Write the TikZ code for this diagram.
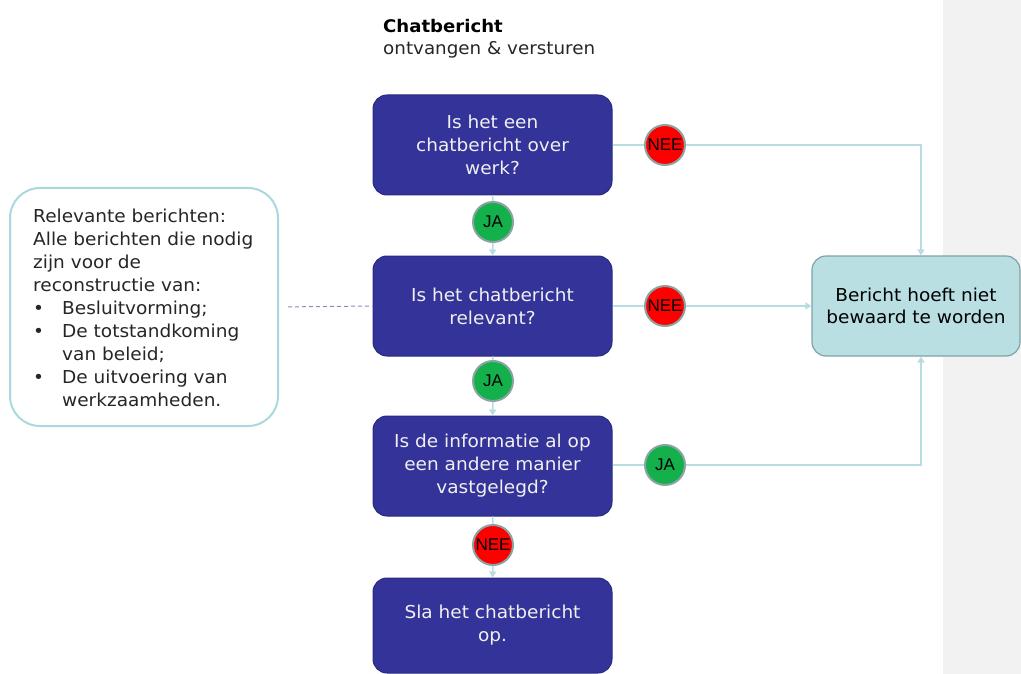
\documentclass[tikz,border=0pt]{standalone}
\usepackage{fontspec}
\setmainfont[FakeStretch=1.04]{DejaVu Sans}
\newfontfamily\labelfont{Liberation Sans}
\usetikzlibrary{arrows.meta,positioning}

\definecolor{stepblue}{HTML}{333399}
\definecolor{stepedge}{HTML}{2A2A7E}
\definecolor{linkteal}{HTML}{B7DDE2}
\definecolor{endfill}{HTML}{B9DFE3}
\definecolor{endedge}{HTML}{7FA3A6}
\definecolor{noteedge}{HTML}{A9D9DE}
\definecolor{panelgray}{HTML}{F2F2F2}
\definecolor{neered}{HTML}{FF0000}
\definecolor{jagreen}{HTML}{13B04B}
\definecolor{ringgray}{HTML}{8AA3A3}
\definecolor{dashblue}{HTML}{8C8CC4}

\tikzset{
  bodyfont/.style={font=\fontsize{17.8}{23}\selectfont},
  stepbox/.style={draw=stepedge, line width=1pt, fill=stepblue, rounded corners=14pt,
    minimum width=239pt, minimum height=100pt, text=white!94!black, align=center,
    bodyfont, inner sep=0pt},
  endbox/.style={draw=endedge, line width=1.2pt, fill=endfill, rounded corners=14pt,
    minimum width=208pt, minimum height=100pt, align=center,
    font=\fontsize{17.8}{22}\selectfont, inner sep=0pt},
  notebox/.style={draw=noteedge, line width=2pt, fill=white, rounded corners=30pt,
    minimum width=268pt, minimum height=238pt},
  notetext/.style={align=left, bodyfont, inner sep=0pt, text=black!85},
  answer/.style={circle, draw=ringgray, line width=2pt, minimum size=40pt, inner sep=0pt,
    font=\labelfont\fontsize{17}{17}\selectfont},
  nee/.style={answer, fill=neered},
  ja/.style={answer, fill=jagreen},
  link/.style={draw=linkteal, line width=1.5pt},
  flow/.style={link, -{Triangle[width=7pt,length=6pt]}},
}

\begin{document}
\begin{tikzpicture}[x=1pt,y=-1pt]
  \useasboundingbox (0,0) rectangle (1021,674);
  % side panel
  \fill[panelgray] (943,0) rectangle (1021,674);

  % heading
  \node[anchor=base west, inner sep=0pt, font=\bfseries\fontsize{17.4}{18}\selectfont] (title) at (383,33) {Chatbericht};
  \node[anchor=base west, inner sep=0pt, font=\fontsize{17.6}{18}\selectfont, text=black!85] (subtitle) at (383,55) {ontvangen \& versturen};

  % decision steps
  \node[stepbox] (q1) at (492.5,145) {Is het een\\chatbericht over\\werk?};
  \node[stepbox] (q2) at (492.5,306) {Is het chatbericht\\relevant?};
  \node[stepbox] (q3) at (492.5,466) {Is de informatie al op\\een andere manier\\vastgelegd?};
  \node[stepbox, minimum height=95pt] (save) at (492.5,625.5) {Sla het chatbericht\\op.};

  % outcome
  \node[endbox] (skip) at (916,306) {Bericht hoeft niet\\bewaard te worden};

  % explanatory note
  \node[notebox] (note) at (144,307) {};
  \node[notetext, anchor=west] (notebody) at (33,308) {Relevante berichten:\\
    Alle berichten die nodig\\
    zijn voor de\\
    reconstructie van:\\
    \makebox[29pt][l]{•}Besluitvorming;\\
    \makebox[29pt][l]{•}De totstandkoming\\
    \hspace*{29pt}van beleid;\\
    \makebox[29pt][l]{•}De uitvoering van\\
    \hspace*{29pt}werkzaamheden.};

  % answers
  \node[ja] (ja1) at (493,222) {JA};
  \node[ja] (ja2) at (493,381) {JA};
  \node[nee] (nee3) at (493,545) {NEE};
  \node[nee] (nee1) at (665,145) {NEE};
  \node[nee] (nee2) at (665,306) {NEE};
  \node[ja] (ja3) at (665,465) {JA};

  % connectors down the main column
  \draw[link] (q1.south) -- (ja1.north);
  \draw[flow] (ja1.south) -- (q2.north);
  \draw[link] (q2.south) -- (ja2.north);
  \draw[flow] (ja2.south) -- (q3.north);
  \draw[link] (q3.south) -- (nee3.north);
  \draw[flow] (nee3.south) -- (save.north);

  % connectors to the outcome
  \draw[link] (q1.east) -- (nee1.west);
  \draw[flow] (nee1.east) -| ([xshift=5pt]skip.north);
  \draw[link] (q2.east) -- (nee2.west);
  \draw[flow] (nee2.east) -- (skip.west);
  \draw[link] (q3.east |- ja3.west) -- (ja3.west);
  \draw[flow] (ja3.east) -| ([xshift=5pt]skip.south);

  % note attached to the relevance question
  \draw[dashblue, line width=1pt, dash pattern=on 4pt off 3pt, shorten <=9pt] (note.east) -- (q2.west);
\end{tikzpicture}
\end{document}
